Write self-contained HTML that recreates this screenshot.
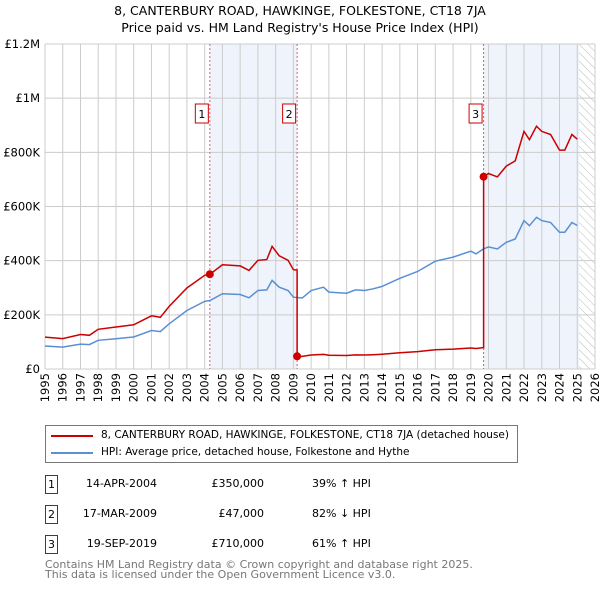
<!DOCTYPE html>
<html><head><meta charset="utf-8">
<style>
body{margin:0;background:#fff;font-family:"DejaVu Sans","Liberation Sans",sans-serif;}
#wrap{position:relative;width:600px;height:590px;overflow:hidden}
.t{position:absolute;font-size:12px;color:#000;white-space:nowrap}
</style></head><body>
<div id="wrap">
<div class="t" style="left:0;width:600px;text-align:center;top:3px;font-size:12.5px">8, CANTERBURY ROAD, HAWKINGE, FOLKESTONE, CT18 7JA</div>
<div class="t" style="left:0;width:600px;text-align:center;top:20px;font-size:12.5px">Price paid vs. HM Land Registry's House Price Index (HPI)</div>
<svg id="chart" width="600" height="420" style="position:absolute;left:0;top:0"></svg>
<div style="position:absolute;left:45px;top:425px;width:471px;height:36px;border:1px solid #777">
 <div style="position:absolute;left:5px;top:4px;width:42px;height:2px;background:#c00;margin-top:5px"></div>
 <div class="t" style="left:55px;top:3px;font-size:10.5px">8, CANTERBURY ROAD, HAWKINGE, FOLKESTONE, CT18 7JA (detached house)</div>
 <div style="position:absolute;left:5px;top:21px;width:42px;height:2px;background:#5b8fd4;margin-top:5px"></div>
 <div class="t" style="left:55px;top:20px;font-size:10.5px">HPI: Average price, detached house, Folkestone and Hythe</div>
</div>
<div id="rows"></div>
<div class="t" style="left:45px;top:560px;font-size:11px;color:#777;line-height:10px">Contains HM Land Registry data © Crown copyright and database right 2025.<br>This data is licensed under the Open Government Licence v3.0.</div>
</div>
<script>
const yearTicks=[1995,1996,1997,1998,1999,2000,2001,2002,2003,2004,2005,2006,2007,2008,2009,2010,2011,2012,2013,2014,2015,2016,2017,2018,2019,2020,2021,2022,2023,2024,2025,2026];
const priceTicks=[0,200000,400000,600000,800000,1000000,1200000];
const priceTickLabels=["£0","£200K","£400K","£600K","£800K","£1M","£1.2M"];
const hpiYears=[1995,1996,1997,1997.5,1998,1999,2000,2001,2001.5,2002,2003,2004,2004.3,2005,2006,2006.5,2007,2007.5,2007.8,2008.2,2008.7,2009,2009.5,2010,2010.7,2011,2012,2012.5,2013,2013.5,2014,2015,2016,2017,2018,2019,2019.3,2019.7,2020,2020.5,2021,2021.5,2022,2022.3,2022.7,2023,2023.5,2024,2024.3,2024.7,2025];
const hpiVals=[85000,81000,92000,90000,106000,112000,118000,142000,138000,167000,216000,250000,253000,278000,275000,263000,290000,292000,327000,302000,290000,265000,262000,290000,302000,284000,280000,292000,290000,296000,305000,335000,360000,398000,413000,435000,425000,443000,451000,443000,468000,480000,548000,529000,560000,548000,541000,505000,505000,541000,530000];
const saleYears=[2004.29,2009.21,2019.72];
const salePrices=[350000,47000,710000];
const saleLabels=["1","2","3"];
const saleDates=["14-APR-2004","17-MAR-2009","19-SEP-2019"];
const saleText=["£350,000","£47,000","£710,000"];
const saleHpi=["39% ↑ HPI","82% ↓ HPI","61% ↑ HPI"];

const X0=45,X1=595,Y0=369,Y1=44;
const xs=y=>X0+(y-1995)/(2026-1995)*(X1-X0);
const ys=v=>Y0-v/1200000*(Y0-Y1);
const NS="http://www.w3.org/2000/svg";
const svg=document.getElementById('chart');
function mk(t,a,p){const e=document.createElementNS(NS,t);for(const k in a)e.setAttribute(k,a[k]);(p||svg).appendChild(e);return e;}
function hpiAt(y){for(let i=0;i<hpiYears.length-1;i++){if(y<=hpiYears[i+1]){const f=(y-hpiYears[i])/(hpiYears[i+1]-hpiYears[i]);return hpiVals[i]+f*(hpiVals[i+1]-hpiVals[i]);}}return hpiVals[hpiVals.length-1];}

let s1=mk('rect',{x:xs(saleYears[0]),y:Y1,width:xs(saleYears[1])-xs(saleYears[0]),height:Y0-Y1,fill:'#eef3fc'});

let s2=mk('rect',{x:xs(saleYears[2]),y:Y1,width:xs(2025.1)-xs(saleYears[2]),height:Y0-Y1,fill:'#eef3fc'});

const defs=mk('defs',{});
const pat=mk('pattern',{id:'hatch',width:6,height:6,patternUnits:'userSpaceOnUse',patternTransform:'rotate(-45)'},defs);
mk('line',{x1:0,y1:0,x2:0,y2:6,stroke:'#bbb','stroke-width':1},pat);
let hz=mk('rect',{x:xs(2025.1),y:Y1,width:X1-xs(2025.1),height:Y0-Y1,fill:'url(#hatch)'});

yearTicks.forEach(y=>{mk('line',{x1:xs(y),x2:xs(y),y1:Y1,y2:Y0,stroke:'#ccc','stroke-width':1});
 const t=mk('text',{x:0,y:0,'font-size':11.5,'text-anchor':'end',transform:`translate(${xs(y)+4},373) rotate(-90)`,'font-family':'DejaVu Sans, Liberation Sans, sans-serif'});t.textContent=y;
 });
priceTicks.forEach((v,i)=>{mk('line',{x1:X0,x2:X1,y1:ys(v),y2:ys(v),stroke:'#ccc','stroke-width':1});
 const t=mk('text',{x:40,y:ys(v)+4,'font-size':11.5,'text-anchor':'end','font-family':'DejaVu Sans, Liberation Sans, sans-serif'});t.textContent=priceTickLabels[i];
 });
saleYears.forEach((y,i)=>{mk('line',{x1:xs(y),x2:xs(y),y1:Y1,y2:Y0,stroke:'#e06060','stroke-width':1,'stroke-dasharray':'2,2'});
 const g=mk('g',{});
 mk('rect',{x:xs(y)-14.5,y:104,width:13,height:19,fill:'#fff',stroke:'#c00'},g);
 const t=mk('text',{x:xs(y)-8,y:118,'font-size':11,'text-anchor':'middle','font-family':'DejaVu Sans, sans-serif'},g);t.textContent=saleLabels[i];});
let d='';hpiYears.forEach((y,i)=>{d+=(i?'L':'M')+xs(y).toFixed(1)+' '+ys(hpiVals[i]).toFixed(1);});
let hl=mk('path',{d:d,fill:'none',stroke:'#5b8fd4','stroke-width':1.5});

const pts=[];
const ratioAt=y=>{let k=0;for(let i=0;i<saleYears.length;i++)if(y>=saleYears[i])k=i;return salePrices[k]/hpiAt(saleYears[k]);};
const allY=hpiYears.concat(saleYears).sort((a,b)=>a-b);
allY.forEach(y=>{
 const idx=saleYears.indexOf(y);
 if(idx>0){pts.push([y,hpiAt(y)*salePrices[idx-1]/hpiAt(saleYears[idx-1])]);}
 pts.push([y,hpiAt(y)*ratioAt(y)]);
});
let d2='';pts.forEach((p,i)=>{d2+=(i?'L':'M')+xs(p[0]).toFixed(1)+' '+ys(p[1]).toFixed(1);});
let rl=mk('path',{d:d2,fill:'none',stroke:'#cc0000','stroke-width':1.5});

saleYears.forEach((y,i)=>{const c=mk('circle',{cx:xs(y),cy:ys(salePrices[i]),r:4,fill:'#cc0000'});
 });
const rows=document.getElementById('rows');
saleLabels.forEach((l,i)=>{const top=475+i*30;
 const h=`<div style="position:absolute;left:45px;top:${top}px;width:13px;height:19px;border:1px solid #c00;box-sizing:border-box;font-size:11px;text-align:center;line-height:17px">${l}</div>
 <div class="t" style="left:60px;width:97px;text-align:right;top:${top+2}px;font-size:11px">${saleDates[i]}</div>
 <div class="t" style="left:180px;width:84px;text-align:right;top:${top+2}px;font-size:11px">${saleText[i]}</div>
 <div class="t" style="left:312px;top:${top+2}px;font-size:11px">${saleHpi[i]}</div>`;
 const d=document.createElement('div');d.innerHTML=h;
 
 
 rows.appendChild(d);});
</script>
</body></html>
